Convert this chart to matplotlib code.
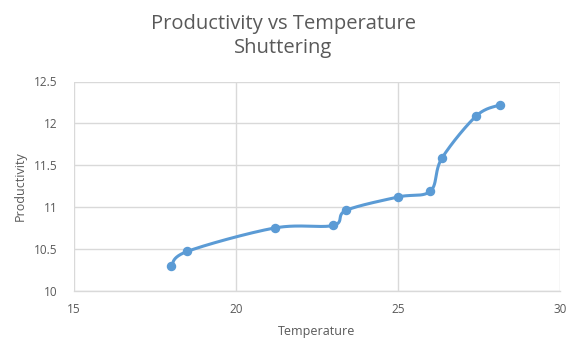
import numpy as np
import matplotlib
matplotlib.use("Agg")
import matplotlib.pyplot as plt

temperature = [18.0, 18.5, 21.2, 23.0, 23.4, 25.0, 26.0, 26.35, 27.42, 28.15]
productivity = [10.29, 10.47, 10.75, 10.78, 10.96, 11.12, 11.19, 11.58, 12.09, 12.22]
x_ticks = [15, 20, 25, 30]
y_ticks = [10, 10.5, 11, 11.5, 12, 12.5]
y_tick_labels = ["10", "10.5", "11", "11.5", "12", "12.5"]

title_text = "Productivity vs Temperature\nShuttering"
x_label = "Temperature"
y_label = "Productivity"

LINE_BLUE = "#5b9bd5"
TEXT_GRAY = "#595959"
GRID_GRAY = "#d9d9d9"

plt.rcParams["font.family"] = ["Open Sans", "DejaVu Sans"]


def smooth_curve(xs, ys, steps=40):
    """Cardinal (Catmull-Rom style) Bezier smoothing through every point."""
    xs = np.asarray(xs, float)
    ys = np.asarray(ys, float)
    n = len(xs)
    out_x, out_y = [], []
    t = np.linspace(0, 1, steps)
    for i in range(n - 1):
        p0 = np.array([xs[max(i - 1, 0)], ys[max(i - 1, 0)]])
        p1 = np.array([xs[i], ys[i]])
        p2 = np.array([xs[i + 1], ys[i + 1]])
        p3 = np.array([xs[min(i + 2, n - 1)], ys[min(i + 2, n - 1)]])
        c1 = p1 + (p2 - p0) / 6.0
        c2 = p2 - (p3 - p1) / 6.0
        b = ((1 - t) ** 3)[:, None] * p1 + (3 * (1 - t) ** 2 * t)[:, None] * c1 \
            + (3 * (1 - t) * t ** 2)[:, None] * c2 + (t ** 3)[:, None] * p2
        out_x.extend(b[:, 0])
        out_y.extend(b[:, 1])
    return out_x, out_y


fig = plt.figure(figsize=(5.67, 3.40), dpi=100)
ax = fig.add_axes([74 / 567, 1 - 290.7 / 340, (560 - 74) / 567, (290.7 - 81.5) / 340])

sx, sy = smooth_curve(temperature, productivity)
ax.plot(sx, sy, color=LINE_BLUE, lw=2.2, solid_capstyle="round", zorder=3)
ax.plot(temperature, productivity, "o", color=LINE_BLUE, ms=5.8, zorder=4)

ax.set_xlim(15, 30)
ax.set_ylim(10, 12.5)
ax.set_xticks(x_ticks)
ax.set_yticks(y_ticks)
ax.set_yticklabels(y_tick_labels)
ax.grid(True, color=GRID_GRAY, lw=1.0, zorder=0)
ax.set_axisbelow(True)

for side in ("top", "right", "left"):
    ax.spines[side].set_visible(False)
ax.spines["bottom"].set_color(GRID_GRAY)
ax.spines["bottom"].set_linewidth(1.0)

ax.tick_params(axis="both", length=0, labelsize=8.5, colors=TEXT_GRAY)
ax.tick_params(axis="x", pad=9)
ax.tick_params(axis="y", pad=12)

ax.set_xlabel(x_label, fontsize=9, color=TEXT_GRAY, labelpad=6)
ax.set_ylabel(y_label, fontsize=9, color=TEXT_GRAY, labelpad=5)

fig.text(0.5, 1 - 36 / 340, title_text, ha="center", va="center",
         fontsize=14.5, color=TEXT_GRAY, linespacing=1.3)

fig.savefig("out.png", dpi=100, facecolor="white")
